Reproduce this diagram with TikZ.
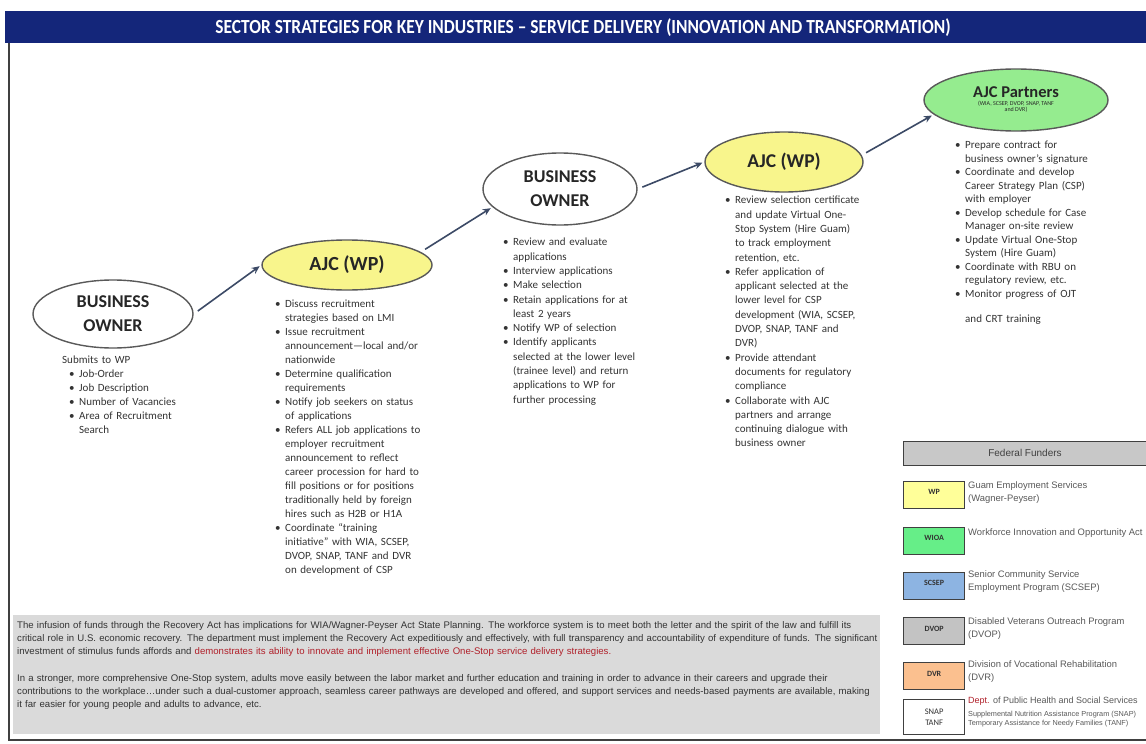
\documentclass[tikz,border=0pt]{standalone}
\usepackage{fontspec}
\setmainfont{Carlito}
\newfontfamily\arialf{Liberation Sans}
\usepackage{graphicx}
\usetikzlibrary{arrows.meta,shapes.geometric}
\definecolor{navy}{HTML}{14267A}
\definecolor{arrowc}{HTML}{3C4A66}
\definecolor{txt}{HTML}{333333}
\definecolor{yel}{HTML}{F8F58C}
\definecolor{grn}{HTML}{95EC8F}
\definecolor{lyel}{HTML}{FFFF99}
\definecolor{lgrn}{HTML}{66EE88}
\definecolor{lblue}{HTML}{8DB4E2}
\definecolor{lgray}{HTML}{C3C3C3}
\definecolor{lorange}{HTML}{FBC08F}
\definecolor{hdrgray}{HTML}{C8C8C8}
\definecolor{notegray}{HTML}{DADADA}
\definecolor{redtxt}{HTML}{B0202A}
\newlength\bind
\setlength\bind{10pt}
\newcommand\bfirst{\noindent\hangindent=\bind\hangafter=1\makebox[\bind][l]{\textbullet}\ignorespaces}
\newcommand\bitem{\par\bfirst}
\newcommand\nl{\newline}
\begin{document}
\begin{tikzpicture}[x=1pt,y=-1pt,
  ell/.style={ellipse, draw=black!65, line width=1.4pt, inner sep=0pt, align=center, text=black!85},
  conn/.style={-{Stealth[length=8pt,width=7pt]}, draw=arrowc, line width=1.6pt, shorten <=5pt, shorten >=2pt},
  lst/.style={anchor=north west, inner sep=0pt, text width=190pt, align=left, text=txt, font=\fontsize{11}{14}\selectfont},
  lgbox/.style={draw=black!75, line width=1.3pt, minimum width=61pt, minimum height=27pt, inner sep=0pt, font=\bfseries\fontsize{8}{9}\selectfont, text=black!80, anchor=north west, align=center},
  lgtxt/.style={anchor=north west, inner sep=0pt, align=left, text=black!65, font=\arialf\fontsize{9.4}{13}\selectfont}
]
\useasboundingbox (0,0) rectangle (1146,744);
\fill[white] (0,0) rectangle (1146,744);
% title bar
\node[anchor=north west, fill=navy, minimum width=1141pt, minimum height=32pt, inner sep=0pt] (bar) at (5,11) {};
\node[text=white, font=\bfseries\fontsize{20}{20}\selectfont] (title) at (583,27.5) {\scalebox{0.87}[1]{SECTOR STRATEGIES FOR KEY INDUSTRIES -- SERVICE DELIVERY (INNOVATION AND TRANSFORMATION)}};
% frame
\coordinate (ftop) at (9,43);
\coordinate (fcorner) at (9,740);
\coordinate (fright) at (1146,740);
\draw[black!75, line width=2.5pt] (ftop) -- (fcorner) -- (fright);

% ellipses
\node[ell, minimum width=160pt, minimum height=68pt, font=\bfseries\fontsize{18}{24}\selectfont] (bo1) at (113,314) {BUSINESS\\OWNER};
\node[ell, fill=yel, minimum width=170pt, minimum height=50pt, font=\bfseries\fontsize{20}{22}\selectfont] (ajc1) at (347,265) {AJC (WP)};
\node[ell, minimum width=154pt, minimum height=72pt, font=\bfseries\fontsize{18}{24}\selectfont] (bo2) at (560,189) {BUSINESS\\OWNER};
\node[ell, fill=yel, minimum width=158pt, minimum height=60pt, font=\bfseries\fontsize{19.5}{22}\selectfont] (ajc2) at (784,162) {AJC (WP)};
\node[ell, fill=grn, minimum width=184pt, minimum height=62pt, font=\fontsize{6}{6.5}\selectfont] (ajcp) at (1016,100) {\bfseries\fontsize{16.5}{17}\selectfont AJC Partners\\[1pt]\fontsize{6}{6.5}\selectfont (WIA, SCSEP, DVOP, SNAP, TANF\\\fontsize{6}{6.5}\selectfont and DVR)};

% connectors
\draw[conn] (bo1.east) -- (ajc1.west);
\draw[conn] (ajc1.10) -- (bo2.195);
\draw[conn] (bo2.east) -- (ajc2.west);
\draw[conn] (ajc2.5) -- (ajcp.190);

% lists
\node[lst] (l1) at (69,356) {\noindent\hspace*{-7pt}Submits to WP
\bitem Job-Order
\bitem Job Description
\bitem Number of Vacancies
\bitem Area of Recruitment\nl Search\par};

\node[lst] (l2) at (275,300) {\bfirst Discuss recruitment\nl strategies based on LMI
\bitem Issue recruitment\nl announcement---local and/or\nl nationwide
\bitem Determine qualification\nl requirements
\bitem Notify job seekers on status\nl of applications
\bitem Refers ALL job applications to\nl employer recruitment\nl announcement to reflect\nl career procession for hard to\nl fill positions or for positions\nl traditionally held by foreign\nl hires such as H2B or H1A
\bitem Coordinate ``training\nl initiative'' with WIA, SCSEP,\nl DVOP, SNAP, TANF and DVR\nl on development of CSP\par};

\node[lst, font=\fontsize{11}{14.3}\selectfont] (l3) at (503,238) {\bfirst Review and evaluate\nl applications
\bitem Interview applications
\bitem Make selection
\bitem Retain applications for at\nl least 2 years
\bitem Notify WP of selection
\bitem Identify applicants\nl selected at the lower level\nl (trainee level) and return\nl applications to WP for\nl further processing\par};

\node[lst, font=\fontsize{11}{14.3}\selectfont] (l4) at (725,196) {\bfirst Review selection certificate\nl and update Virtual One-\nl Stop System (Hire Guam)\nl to track employment\nl retention, etc.
\bitem Refer application of\nl applicant selected at the\nl lower level for CSP\nl development (WIA, SCSEP,\nl DVOP, SNAP, TANF and\nl DVR)
\bitem Provide attendant\nl documents for regulatory\nl compliance
\bitem Collaborate with AJC\nl partners and arrange\nl continuing dialogue with\nl business owner\par};

\node[lst, font=\fontsize{11}{13.5}\selectfont] (l5) at (955,141) {\bfirst Prepare contract for\nl business owner's signature
\bitem Coordinate and develop\nl Career Strategy Plan (CSP)\nl with employer
\bitem Develop schedule for Case\nl Manager on-site review
\bitem Update Virtual One-Stop\nl System (Hire Guam)
\bitem Coordinate with RBU on\nl regulatory review, etc.
\bitem Monitor progress of OJT\par\vspace{11.5pt}\noindent\hspace*{\bind}and CRT training\par};

% legend
\node[anchor=north west, draw=black!75, line width=1.3pt, fill=hdrgray, minimum width=250pt, minimum height=24pt, inner sep=0pt] (fedhdr) at (903,441) {};
\node[text=black!75, font=\arialf\fontsize{10}{11}\selectfont] (fedtxt) at (1025,453) {Federal Funders};

\node[lgbox, fill=lyel] (wp) at (903,481) {\raisebox{6pt}{WP}};
\node[lgtxt] (wpt) at (968,481) {Guam Employment Services\\(Wagner-Peyser)};
\node[lgbox, fill=lgrn] (wioa) at (903,527) {\raisebox{6pt}{WIOA}};
\node[lgtxt] (wioat) at (968,528) {Workforce Innovation and Opportunity Act};
\node[lgbox, fill=lblue] (scsep) at (903,572) {\raisebox{6pt}{SCSEP}};
\node[lgtxt] (scsept) at (968,570) {Senior Community Service\\Employment Program (SCSEP)};
\node[lgbox, fill=lgray] (dvop) at (903,617) {\raisebox{4pt}{DVOP}};
\node[lgtxt] (dvopt) at (968,617) {Disabled Veterans Outreach Program\\(DVOP)};
\node[lgbox, fill=lorange] (dvr) at (903,662) {\raisebox{4pt}{DVR}};
\node[lgtxt] (dvrt) at (968,660) {Division of Vocational Rehabilitation\\(DVR)};
\node[lgbox, fill=white, minimum height=35pt, font=\fontsize{8.5}{11}\selectfont] (snap) at (903,699) {SNAP\\TANF};
\node[lgtxt, font=\arialf\fontsize{9}{10}\selectfont] (snapt) at (968,697) {\textcolor{redtxt}{Dept.} of Public Health and Social Services};
\node[lgtxt, font=\arialf\fontsize{7.3}{9}\selectfont] (snapt2) at (968,711) {Supplemental Nutrition Assistance Program (SNAP)\\Temporary Assistance for Needy Families (TANF)};

% note box
\node[anchor=north west, fill=notegray, minimum width=867pt, minimum height=119pt, inner sep=0pt] (note) at (13,615) {};
\node[anchor=north west, inner sep=0pt, text width=900pt, align=left, text=black!80, font=\arialf\fontsize{9.6}{13}\selectfont] (notetext) at (17,621) {The infusion of funds through the Recovery Act has implications for WIA/Wagner-Peyser Act State Planning.\enspace The workforce system is to meet both the letter and the spirit of the law and fulfill its\nl critical role in U.S. economic recovery. The department must implement the Recovery Act expeditiously and effectively, with full transparency and accountability of expenditure of funds. The significant\nl investment of stimulus funds affords and \textcolor{redtxt}{demonstrates its ability to innovate and implement effective One-Stop service delivery strategies.}\par\vspace{14pt}\noindent
In a stronger, more comprehensive One-Stop system, adults move easily between the labor market and further education and training in order to advance in their careers and upgrade their\nl contributions to the workplace\dots under such a dual-customer approach, seamless career pathways are developed and offered, and support services and needs-based payments are available, making\nl it far easier for young people and adults to advance, etc.\par};
\end{tikzpicture}
\end{document}
